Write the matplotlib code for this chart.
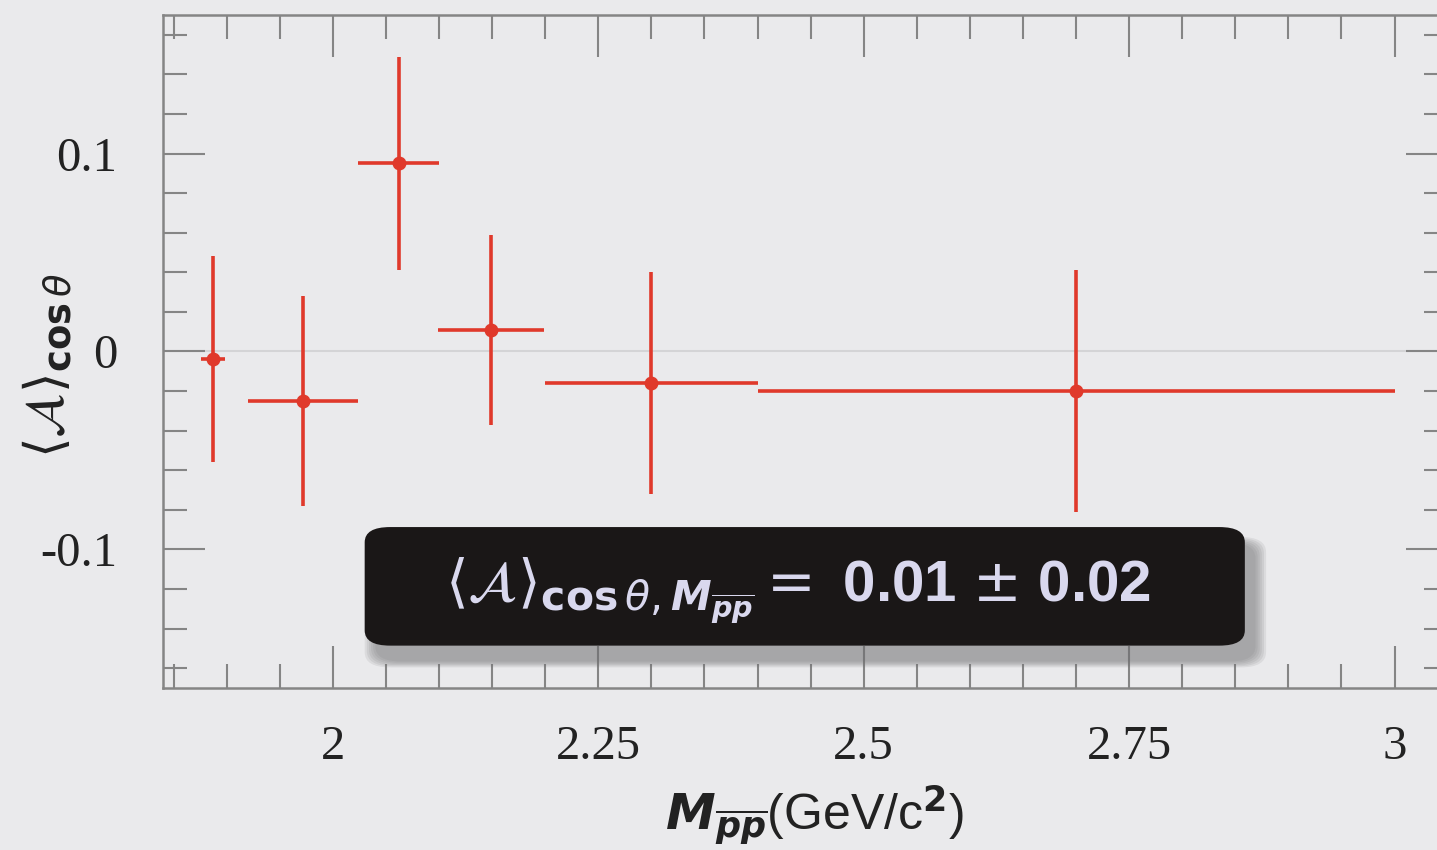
import numpy as np
import matplotlib
matplotlib.use('Agg')
import matplotlib.pyplot as plt
from matplotlib.patches import FancyBboxPatch
from matplotlib.ticker import MultipleLocator

# data
mass = [1.887, 1.972, 2.062, 2.149, 2.300, 2.700]
mass_err = [0.011, 0.052, 0.038, 0.050, 0.100, 0.300]
asym = [-0.004, -0.025, 0.095, 0.011, -0.016, -0.020]
asym_err = [0.052, 0.053, 0.054, 0.048, 0.056, 0.061]
avg_text = (r'$\langle\mathcal{A}\rangle_{\mathbf{cos}\,\theta,'
            r'\boldsymbol{M}_{\overline{\boldsymbol{pp}}}} =$ 0.01 $\pm$ 0.02')

BG = '#eaeaec'
RED = '#e0392b'
SPINE = '#858585'

plt.rcParams['mathtext.fontset'] = 'dejavusans'

fig = plt.figure(figsize=(14.37, 8.5), dpi=100, facecolor=BG)
ax = fig.add_axes([0.1134, 0.1906, 0.894, 0.7918], facecolor=BG)

ax.axhline(0, color='#d4d4d6', lw=1.5, zorder=1)
ax.errorbar(mass, asym, xerr=mass_err, yerr=asym_err, fmt='o', color=RED,
            ms=9, lw=2.6, capsize=0, zorder=3)

ax.set_xlim(1.84, 3.05)
ax.set_ylim(-0.17, 0.17)
ax.xaxis.set_minor_locator(MultipleLocator(0.05))
ax.yaxis.set_minor_locator(MultipleLocator(0.02))
ax.set_xticks([2, 2.25, 2.5, 2.75, 3])
ax.set_xticklabels(['2', '2.25', '2.5', '2.75', '3'])
ax.set_yticks([-0.1, 0, 0.1])
ax.set_yticklabels(['-0.1', '0', '0.1'])
ax.tick_params(which='both', direction='in', top=True, right=True, color=SPINE, width=1.5)
ax.tick_params(which='major', length=30, labelsize=35)
ax.tick_params(which='minor', length=17)
ax.tick_params(axis='y', which='major', pad=33)
ax.tick_params(axis='x', which='major', pad=27)
for lab in ax.get_xticklabels() + ax.get_yticklabels():
    lab.set_family('Liberation Serif')
    lab.set_color('#222222')
for s in ax.spines.values():
    s.set_color(SPINE)
    s.set_linewidth(1.8)

ax.set_xlabel(r'$\boldsymbol{M}_{\overline{\boldsymbol{pp}}}$(GeV/c$^\mathbf{2}$)', fontsize=36,
              family='Liberation Sans', color='#222222')
ax.xaxis.set_label_coords(0.507, -0.142)
fig.text(0.033, 0.57, r'$\langle\mathcal{A}\rangle_{\mathbf{cos}\,\theta}$', rotation=90,
         fontsize=38, ha='center', va='center', color='#222222')

# summary box with soft shadow
x0, x1, y0, y1 = 2.030, 2.859, -0.1486, -0.0887
style = 'round,pad=0,rounding_size=0.024'
for k in range(6):
    grow = 0.002 * k
    ax.add_patch(FancyBboxPatch((x0 + 0.010 - grow, y0 - 0.008 - grow * 0.3),
                                x1 - x0 + 2 * grow, y1 - y0 + 2 * grow * 0.3,
                                boxstyle=style, mutation_aspect=0.32,
                                facecolor='#707072', edgecolor='none', alpha=0.12, zorder=4))
ax.add_patch(FancyBboxPatch((x0, y0), x1 - x0, y1 - y0, boxstyle=style, mutation_aspect=0.32,
                            facecolor='#1a1717', edgecolor='none', zorder=5))
ax.text((x0 + x1) / 2 - 0.006, (y0 + y1) / 2 - 0.002, avg_text, ha='center', va='center',
        fontsize=42, color='#d9d8ee', fontweight='bold', family='Liberation Sans', zorder=6)

fig.savefig('out.png', dpi=100, facecolor=BG)
